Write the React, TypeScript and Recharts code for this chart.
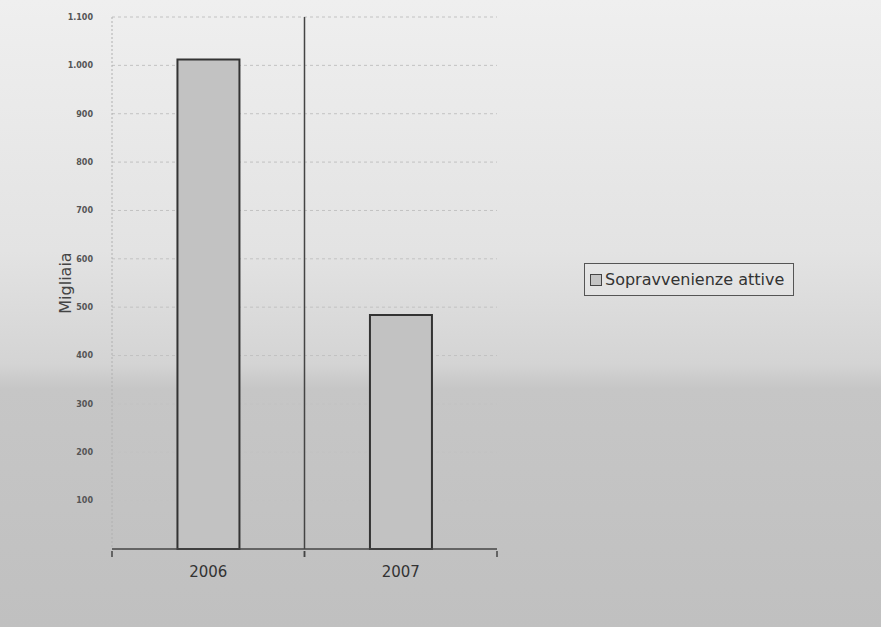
import React from 'react';
import { BarChart, Bar, XAxis, YAxis, CartesianGrid, Legend, Label } from 'recharts';

const categories = ['2006', '2007'];
const seriesName = 'Sopravvenienze attive';
const seriesValues = [1012, 484];
const yTicks = [0, 100, 200, 300, 400, 500, 600, 700, 800, 900, 1000, 1100];

const data = categories.map((c, i) => ({ year: c, value: seriesValues[i] }));

const fmt = (v: number) => {
  if (v === 0) return '';
  const s = String(v);
  return s.length > 3 ? s.slice(0, s.length - 3) + '.' + s.slice(s.length - 3) : s;
};

const LegendBox = () => (
  <div
    style={{
      display: 'flex',
      alignItems: 'center',
      border: '1.5px solid #555',
      padding: '6px 9px 6px 5px',
      fontFamily: '"DejaVu Sans", sans-serif',
      fontSize: 16,
      color: '#333',
      background: 'rgba(235,235,235,0.4)',
      whiteSpace: 'nowrap',
    }}
  >
    <span
      style={{
        display: 'inline-block',
        width: 10,
        height: 10,
        border: '1.5px solid #444',
        background: '#c4c4c4',
        marginRight: 3,
      }}
    />
    {seriesName}
  </div>
);

const CatTick = (props: any) => {
  const { x, y, payload } = props;
  const off = payload && typeof payload.offset === 'number' ? payload.offset : 0;
  return (
    <g>
      {off > 0 && (
        <>
          <line x1={x - off} y1={y} x2={x - off} y2={y + 6} stroke="#444" strokeWidth={1.5} />
          <line x1={x + off} y1={y} x2={x + off} y2={y + 6} stroke="#444" strokeWidth={1.5} />
        </>
      )}
      <text
        x={x}
        y={y + 26}
        textAnchor="middle"
        fontSize={15}
        fill="#333"
        fontFamily='"DejaVu Sans", sans-serif'
      >
        {payload.value}
      </text>
    </g>
  );
};

export default function App() {
  return (
    <div
      style={{
        position: 'absolute',
        left: 0,
        top: 0,
        width: 881,
        height: 627,
        background: 'linear-gradient(180deg, #efefef 0%, #e3e3e3 40%, #d4d4d4 58%, #c6c6c6 62%, #c0c0c0 100%)',
      }}
    >
      <BarChart
        width={881}
        height={627}
        data={data}
        margin={{ top: 17, right: 384, bottom: 40, left: 52 }}
        barCategoryGap="34%"
      >
        <CartesianGrid horizontal vertical={false} stroke="#c2c2c2" strokeDasharray="3 3" />
        <CartesianGrid
          horizontal={false}
          vertical
          stroke="#444"
          strokeWidth={1.5}
          verticalCoordinatesGenerator={({ offset }: any) => [offset.left + offset.width / 2]}
        />
        <XAxis
          dataKey="year"
          height={38}
          tickSize={0}
          axisLine={{ stroke: '#444', strokeWidth: 1.5 }}
          tickLine={false}
          tick={<CatTick />}
        />
        <YAxis
          domain={[0, 1100]}
          ticks={yTicks}
          tickFormatter={fmt}
          width={60}
          tickSize={0}
          tickMargin={19}
          axisLine={{ stroke: '#b0b0b0', strokeDasharray: '2 2' }}
          tickLine={false}
          tick={{ fontSize: 8, fill: '#555', fontWeight: 'bold', fontFamily: '"DejaVu Sans", sans-serif' }}
        >
          <Label
            content={(props: any) => {
              const vb = props.viewBox || {};
              const x = vb.x + 14;
              const y = vb.y + vb.height / 2;
              return (
                <text
                  x={x}
                  y={y}
                  transform={`rotate(-90 ${x} ${y})`}
                  textAnchor="middle"
                  dominantBaseline="middle"
                  fontSize={16}
                  fill="#444"
                  fontFamily='"DejaVu Sans", sans-serif'
                >
                  Migliaia
                </text>
              );
            }}
          />
        </YAxis>
        <YAxis
          yAxisId="r"
          orientation="right"
          domain={[0, 1100]}
          width={0}
          tick={false}
          tickLine={false}
          axisLine={{ stroke: '#bbb', strokeDasharray: '2 2' }}
        />
        <Legend
          layout="horizontal"
          verticalAlign="middle"
          align="center"
          wrapperStyle={{ left: 584, top: 263, width: 'auto' }}
          content={() => <LegendBox />}
        />
        <Bar
          dataKey="value"
          name={seriesName}
          fill="#c2c2c2"
          stroke="#333"
          strokeWidth={2}
          isAnimationActive={false}
        />
      </BarChart>
    </div>
  );
}
